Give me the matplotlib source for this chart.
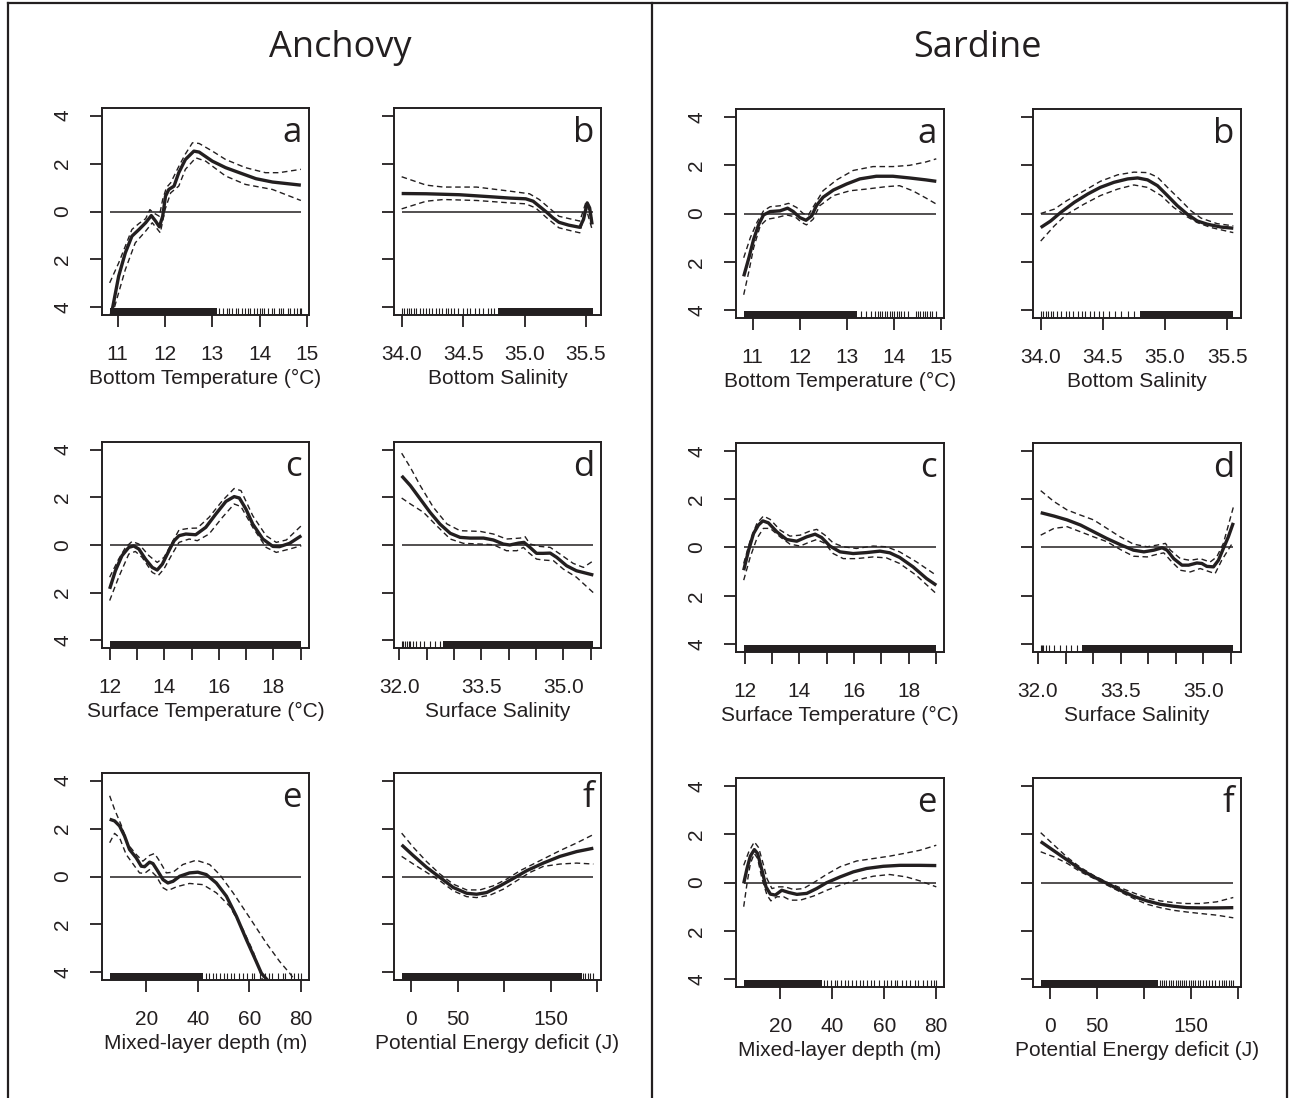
import matplotlib
matplotlib.use("Agg")
import matplotlib.pyplot as plt
from matplotlib.lines import Line2D

plt.rcParams['font.family'] = ['Liberation Sans', 'DejaVu Sans']

INK = '#231f20'

# ---------------- DATA ----------------
species = ["Anchovy", "Sardine"]
panel_letters = ["a", "b", "c", "d", "e", "f"]
x_labels = ["Bottom Temperature (°C)", "Bottom Salinity",
            "Surface Temperature (°C)", "Surface Salinity",
            "Mixed-layer depth (m)", "Potential Energy deficit (J)"]
y_ticks = [-4, -2, 0, 2, 4]
y_ticklabels = ["4", "2", "0", "2", "4"]

bt_ticks = [11, 12, 13, 14, 15]
bt_ticklabels = ["11", "12", "13", "14", "15"]
bs_ticks = [34.0, 34.5, 35.0, 35.5]
bs_ticklabels = ["34.0", "34.5", "35.0", "35.5"]
st_ticks = [12, 13, 14, 15, 16, 17, 18, 19]
st_ticklabels = ["12", "", "14", "", "16", "", "18", ""]
ss_ticks = [32.0, 32.5, 33.0, 33.5, 34.0, 34.5, 35.0, 35.5]
ss_ticklabels = ["32.0", "", "", "33.5", "", "", "35.0", ""]
mld_ticks = [20, 40, 60, 80]
mld_ticklabels = ["20", "40", "60", "80"]
pe_ticks = [0, 50, 100, 150, 200]
pe_ticklabels = ["0", "50", "", "150", ""]

# ---- Anchovy a: bottom temperature
anc_a_fit = [(10.86, -4.35), (11.02, -2.7), (11.16, -1.73), (11.30, -1.03), (11.45, -0.75),
             (11.59, -0.47), (11.71, -0.17), (11.80, -0.4), (11.88, -0.64), (11.95, -0.2),
             (12.01, 0.64), (12.08, 0.92), (12.19, 1.06), (12.29, 1.62), (12.43, 2.17),
             (12.61, 2.52), (12.72, 2.48), (13.0, 2.1), (13.28, 1.83), (13.57, 1.62),
             (13.92, 1.37), (14.27, 1.23), (14.87, 1.1)]
anc_a_up = [(10.83, -2.98), (11.02, -2.15), (11.16, -1.45), (11.3, -0.75), (11.45, -0.5),
            (11.59, -0.3), (11.68, 0.08), (11.75, -0.05), (11.88, -0.2), (11.95, 0.5),
            (12.03, 1.0), (12.12, 1.2), (12.29, 1.88), (12.43, 2.4), (12.58, 2.87),
            (12.72, 2.84), (13.0, 2.52), (13.28, 2.17), (13.7, 1.83), (14.12, 1.62),
            (14.41, 1.62), (14.87, 1.76)]
anc_a_lo = [(10.88, -4.35), (11.16, -2.43), (11.37, -1.31), (11.59, -0.82), (11.73, -0.47),
            (11.9, -0.89), (12.0, 0.08), (12.12, 0.78), (12.29, 1.06), (12.43, 1.76),
            (12.65, 2.24), (12.86, 2.1), (13.28, 1.48), (13.7, 1.13), (14.27, 0.92),
            (14.87, 0.46)]
anc_a_rug_spans = [(10.83, 13.1)]
anc_a_rug_ticks = [13.15, 13.22, 13.3, 13.35, 13.42, 13.5, 13.55, 13.62, 13.7, 13.75, 13.8,
                   13.87, 13.95, 14.0, 14.05, 14.1, 14.18, 14.25, 14.3, 14.4, 14.45, 14.5,
                   14.6, 14.65, 14.72, 14.78, 14.85, 14.88]

# ---- Anchovy b: bottom salinity
anc_b_fit = [(34.0, 0.75), (34.2, 0.74), (34.47, 0.70), (34.74, 0.61), (34.88, 0.56),
             (35.01, 0.53), (35.07, 0.43), (35.12, 0.22), (35.18, -0.03), (35.23, -0.26),
             (35.28, -0.45), (35.36, -0.57), (35.45, -0.66), (35.48, -0.33), (35.51, 0.36),
             (35.53, 0.15), (35.55, -0.54)]
anc_b_up = [(34.0, 1.45), (34.2, 1.10), (34.34, 1.02), (34.61, 1.02), (34.88, 0.85),
            (35.04, 0.74), (35.12, 0.5), (35.2, 0.15), (35.28, -0.2), (35.45, -0.4),
            (35.5, 0.39), (35.55, -0.33)]
anc_b_lo = [(34.0, 0.11), (34.2, 0.43), (34.34, 0.5), (34.61, 0.46), (34.88, 0.36),
            (35.01, 0.32), (35.09, 0.15), (35.18, -0.26), (35.28, -0.68), (35.39, -0.82),
            (35.45, -0.89), (35.5, 0.15), (35.55, -0.75)]
anc_b_rug_spans = [(34.78, 35.56)]
anc_b_rug_ticks = [34.0, 34.02, 34.04, 34.06, 34.08, 34.1, 34.12, 34.15, 34.17, 34.2, 34.22,
                   34.25, 34.28, 34.3, 34.33, 34.36, 34.38, 34.4, 34.43, 34.46, 34.5, 34.53,
                   34.56, 34.6, 34.63, 34.66, 34.7, 34.73, 34.75]

# ---- Anchovy c: surface temperature
anc_c_fit = [(12.0, -1.84), (12.21, -1.08), (12.45, -0.45), (12.7, -0.1), (12.88, -0.04),
             (13.07, -0.17), (13.31, -0.59), (13.56, -0.94), (13.74, -1.05), (13.93, -0.8),
             (14.17, -0.24), (14.36, 0.18), (14.54, 0.39), (14.79, 0.46), (15.15, 0.43),
             (15.52, 0.74), (15.89, 1.3), (16.26, 1.83), (16.56, 2.03), (16.75, 1.97),
             (16.99, 1.51), (17.24, 0.88), (17.61, 0.25), (17.98, -0.06), (18.22, -0.07),
             (18.59, 0.07), (19.02, 0.39)]
anc_c_up = [(12.0, -1.35), (12.33, -0.59), (12.58, -0.1), (12.82, 0.15), (13.07, 0.04),
            (13.44, -0.45), (13.74, -0.73), (13.99, -0.52), (14.29, 0.11), (14.54, 0.63),
            (14.91, 0.7), (15.21, 0.71), (15.64, 1.16), (16.13, 1.86), (16.56, 2.37),
            (16.81, 2.28), (17.24, 1.23), (17.73, 0.39), (18.1, 0.11), (18.47, 0.21),
            (19.02, 0.81)]
anc_c_lo = [(12.0, -2.33), (12.33, -1.35), (12.7, -0.38), (12.94, -0.27), (13.19, -0.52),
            (13.56, -1.15), (13.78, -1.28), (13.99, -1.0), (14.29, -0.38), (14.54, 0.11),
            (14.91, 0.25), (15.21, 0.18), (15.64, 0.46), (16.13, 1.16), (16.56, 1.72),
            (16.81, 1.61), (17.24, 0.74), (17.73, -0.1), (18.1, -0.31), (18.59, -0.17),
            (19.02, -0.03)]
anc_c_rug_spans = [(12.0, 19.02)]
anc_c_rug_ticks = []

# ---- Anchovy d: surface salinity
anc_d_fit = [(32.04, 2.9), (32.2, 2.49), (32.38, 1.93), (32.56, 1.37), (32.74, 0.88),
             (32.93, 0.49), (33.11, 0.32), (33.29, 0.29), (33.54, 0.29), (33.72, 0.21),
             (33.9, 0.04), (34.02, 0.0), (34.18, 0.08), (34.28, 0.11), (34.39, -0.1),
             (34.51, -0.35), (34.63, -0.35), (34.76, -0.34), (34.88, -0.52), (35.06, -0.87),
             (35.24, -1.08), (35.55, -1.26)]
anc_d_up = [(32.04, 3.85), (32.2, 3.25), (32.38, 2.49), (32.62, 1.58), (32.87, 0.88),
            (33.11, 0.6), (33.48, 0.57), (33.72, 0.46), (33.96, 0.25), (34.21, 0.29),
            (34.3, 0.35), (34.39, 0.04), (34.57, -0.06), (34.76, -0.1), (34.94, -0.38),
            (35.18, -0.77), (35.37, -0.94), (35.55, -0.66)]
anc_d_lo = [(32.04, 1.97), (32.2, 1.72), (32.44, 1.37), (32.68, 0.81), (32.93, 0.25),
            (33.17, 0.07), (33.48, 0.04), (33.72, 0.01), (33.96, -0.24), (34.15, -0.24),
            (34.27, -0.1), (34.36, -0.31), (34.51, -0.59), (34.63, -0.63), (34.82, -0.66),
            (35.0, -1.01), (35.24, -1.35), (35.55, -2.0)]
anc_d_rug_spans = [(32.8, 35.55)]
anc_d_rug_ticks = [32.04, 32.07, 32.1, 32.13, 32.17, 32.2, 32.25, 32.3, 32.38, 32.45,
                   32.55, 32.65, 32.75]

# ---- Anchovy e: mixed-layer depth
anc_e_fit = [(5.8, 2.39), (7.7, 2.32), (9.64, 2.11), (11.58, 1.69), (13.5, 1.13), (16.1, 0.78),
             (18.06, 0.43), (19.35, 0.41), (21.3, 0.6), (22.6, 0.54), (24.5, 0.22),
             (26.5, -0.13), (28.4, -0.27), (30.4, -0.2), (33.0, 0.01), (36.8, 0.15),
             (40.0, 0.18), (43.3, 0.08), (47.2, -0.27), (51.1, -0.82), (55.0, -1.66),
             (58.9, -2.64), (62.7, -3.55), (64.7, -4.04), (68.5, -4.5)]
anc_e_up = [(5.8, 3.37), (7.7, 2.8), (10.3, 2.14), (12.9, 1.34), (16.1, 0.92), (18.7, 0.64),
            (21.3, 0.88), (23.2, 0.96), (25.2, 0.64), (27.8, 0.15), (30.4, 0.18), (34.2, 0.5),
            (39.4, 0.68), (44.6, 0.5), (48.5, 0.08), (53.7, -0.68), (60.2, -1.73),
            (66.6, -2.78), (71.8, -3.55), (75.7, -4.04), (78.9, -4.5)]
anc_e_lo = [(5.8, 1.41), (7.7, 1.8), (9.64, 1.62), (12.2, 0.92), (15.5, 0.43), (17.4, 0.15),
            (19.35, 0.13), (21.3, 0.29), (23.9, 0.01), (26.5, -0.47), (28.4, -0.59),
            (31.7, -0.43), (36.8, -0.29), (42.0, -0.34), (47.2, -0.68), (52.4, -1.24),
            (57.6, -2.22), (61.5, -3.13), (64.0, -3.9), (65.6, -4.5)]
anc_e_rug_spans = [(5.8, 42.0)]
anc_e_rug_ticks = [43, 44.5, 46, 47, 48.5, 50, 51.5, 53, 54, 56, 57.5, 59, 61, 62, 64, 66,
                   67.5, 69, 71, 73, 74, 76, 77.5, 79, 80.2]

# ---- Anchovy f: potential energy deficit
anc_f_fit = [(-10, 1.32), (2.5, 0.87), (16.8, 0.38), (31.1, -0.04), (45.4, -0.46),
             (59.7, -0.7), (70.4, -0.74), (81.2, -0.67), (95.5, -0.39), (109.8, -0.08),
             (124.0, 0.24), (141.9, 0.56), (159.8, 0.84), (177.7, 1.04), (195.6, 1.18)]
anc_f_up = [(-10, 1.81), (2.5, 1.22), (16.8, 0.62), (31.1, 0.1), (45.4, -0.32), (59.7, -0.56),
            (74.0, -0.56), (88.3, -0.39), (102.6, -0.11), (116.9, 0.24), (131.2, 0.52),
            (145.5, 0.8), (159.8, 1.08), (177.7, 1.4), (195.6, 1.75)]
anc_f_lo = [(-10, 0.84), (2.5, 0.52), (16.8, 0.17), (31.1, -0.18), (45.4, -0.6), (59.7, -0.84),
            (70.4, -0.88), (84.7, -0.78), (99.0, -0.53), (113.3, -0.18), (127.6, 0.17),
            (141.9, 0.42), (159.8, 0.52), (177.7, 0.56), (195.6, 0.52)]
anc_f_rug_spans = [(-10, 183)]
anc_f_rug_ticks = [185, 187, 190, 192, 195.6]

# ---- Sardine a: bottom temperature
sar_a_fit = [(10.81, -2.6), (10.92, -1.83), (11.02, -1.07), (11.13, -0.44), (11.23, -0.06),
             (11.37, 0.08), (11.58, 0.11), (11.74, 0.22), (11.86, 0.08), (12.0, -0.17),
             (12.13, -0.28), (12.25, -0.1), (12.35, 0.32), (12.49, 0.67), (12.71, 0.97),
             (12.99, 1.22), (13.27, 1.43), (13.62, 1.54), (13.97, 1.54), (14.32, 1.47),
             (14.67, 1.39), (14.89, 1.33)]
sar_a_up = [(10.81, -1.83), (10.95, -1.0), (11.09, -0.37), (11.23, 0.11), (11.37, 0.28),
            (11.58, 0.32), (11.76, 0.42), (11.93, 0.25), (12.07, 0.0), (12.18, -0.06),
            (12.32, 0.39), (12.49, 0.94), (12.78, 1.39), (13.13, 1.78), (13.55, 1.94),
            (13.97, 1.94), (14.32, 1.99), (14.67, 2.13), (14.89, 2.26)]
sar_a_lo = [(10.81, -3.36), (10.92, -2.39), (11.02, -1.42), (11.16, -0.51), (11.3, -0.24),
            (11.51, -0.17), (11.72, -0.06), (11.9, -0.14), (12.04, -0.375), (12.14, -0.47),
            (12.28, -0.24), (12.42, 0.32), (12.71, 0.74), (13.06, 0.94), (13.41, 1.01),
            (13.83, 1.11), (14.11, 1.15), (14.39, 0.94), (14.67, 0.64), (14.89, 0.39)]
sar_a_rug_spans = [(10.81, 13.2)]
sar_a_rug_ticks = [13.3, 13.4, 13.5, 13.6, 13.65, 13.7, 13.75, 13.8, 13.85, 13.9, 13.95,
                   14.0, 14.05, 14.1, 14.15, 14.2, 14.3, 14.45, 14.5, 14.55, 14.6, 14.65,
                   14.7, 14.75, 14.8, 14.89]

# ---- Sardine b: bottom salinity
sar_b_fit = [(34.0, -0.58), (34.08, -0.31), (34.16, 0.04), (34.27, 0.46), (34.38, 0.81),
             (34.48, 1.08), (34.59, 1.29), (34.7, 1.43), (34.78, 1.47), (34.86, 1.39),
             (34.94, 1.15), (35.02, 0.74), (35.1, 0.32), (35.18, -0.03), (35.26, -0.31),
             (35.34, -0.44), (35.45, -0.56), (35.55, -0.61)]
sar_b_up = [(34.0, 0.0), (34.11, 0.18), (34.21, 0.53), (34.35, 0.94), (34.48, 1.33),
            (34.62, 1.6), (34.75, 1.71), (34.86, 1.69), (34.94, 1.5), (35.02, 1.08),
            (35.13, 0.53), (35.21, 0.11), (35.29, -0.19), (35.42, -0.42), (35.55, -0.51)]
sar_b_lo = [(34.0, -1.14), (34.11, -0.51), (34.21, -0.03), (34.35, 0.39), (34.48, 0.74),
            (34.62, 1.01), (34.75, 1.18), (34.86, 1.08), (34.97, 0.74), (35.07, 0.25),
            (35.18, -0.14), (35.26, -0.375), (35.37, -0.58), (35.55, -0.79)]
sar_b_rug_spans = [(34.8, 35.55)]
sar_b_rug_ticks = [34.0, 34.02, 34.04, 34.06, 34.08, 34.1, 34.13, 34.16, 34.2, 34.23,
                   34.26, 34.3, 34.33, 34.36, 34.4, 34.43, 34.47, 34.5, 34.55, 34.6,
                   34.65, 34.7, 34.75]

# ---- Sardine c: surface temperature
sar_c_fit = [(11.97, -0.94), (12.15, -0.11), (12.33, 0.58), (12.51, 0.93), (12.67, 1.1),
             (12.87, 1.02), (13.18, 0.65), (13.54, 0.33), (13.91, 0.26), (14.27, 0.44),
             (14.58, 0.55), (14.82, 0.41), (15.12, 0.06), (15.49, -0.18), (15.97, -0.25),
             (16.46, -0.21), (16.95, -0.15), (17.31, -0.22), (17.67, -0.41), (18.16, -0.8),
             (18.65, -1.28), (19.01, -1.56)]
sar_c_up = [(11.97, -0.66), (12.21, 0.3), (12.45, 0.99), (12.69, 1.3), (12.94, 1.16),
            (13.3, 0.72), (13.66, 0.47), (14.03, 0.51), (14.39, 0.68), (14.64, 0.75),
            (14.94, 0.51), (15.24, 0.19), (15.61, 0.03), (16.09, -0.04), (16.7, 0.06),
            (17.19, 0.03), (17.67, -0.18), (18.28, -0.59), (19.01, -1.15)]
sar_c_lo = [(11.97, -1.35), (12.21, -0.39), (12.45, 0.37), (12.69, 0.79), (12.94, 0.79),
            (13.3, 0.44), (13.66, 0.14), (14.03, 0.06), (14.39, 0.23), (14.64, 0.33),
            (14.94, 0.17), (15.24, -0.25), (15.61, -0.46), (16.09, -0.46), (16.7, -0.39),
            (17.19, -0.43), (17.67, -0.66), (18.28, -1.15), (19.01, -1.91)]
sar_c_rug_spans = [(11.97, 19.01)]
sar_c_rug_ticks = []

# ---- Sardine d: surface salinity
sar_d_fit = [(32.05, 1.44), (32.29, 1.3), (32.53, 1.14), (32.77, 0.93), (33.01, 0.65),
             (33.25, 0.37), (33.49, 0.12), (33.73, -0.11), (33.92, -0.18), (34.1, -0.11),
             (34.25, -0.01), (34.34, -0.11), (34.46, -0.46), (34.61, -0.73), (34.73, -0.73),
             (34.88, -0.64), (34.97, -0.66), (35.06, -0.78), (35.18, -0.8), (35.27, -0.53),
             (35.36, -0.04), (35.45, 0.44), (35.54, 1.02)]
sar_d_up = [(32.05, 2.35), (32.29, 1.9), (32.53, 1.55), (32.77, 1.34), (33.01, 1.14),
            (33.25, 0.79), (33.49, 0.44), (33.73, 0.14), (33.98, 0.03), (34.16, 0.1),
            (34.31, 0.17), (34.4, -0.11), (34.58, -0.46), (34.76, -0.53), (34.94, -0.46),
            (35.12, -0.6), (35.24, -0.39), (35.36, 0.17), (35.54, 1.66)]
sar_d_lo = [(32.05, 0.51), (32.29, 0.79), (32.53, 0.86), (32.77, 0.65), (33.01, 0.44),
            (33.25, 0.24), (33.49, -0.08), (33.73, -0.36), (33.98, -0.39), (34.16, -0.28),
            (34.28, -0.22), (34.4, -0.53), (34.58, -0.94), (34.76, -1.01), (34.94, -0.87),
            (35.12, -1.01), (35.21, -1.08), (35.33, -0.53), (35.54, 0.24)]
sar_d_rug_spans = [(32.8, 35.54)]
sar_d_rug_ticks = [32.05, 32.08, 32.1, 32.15, 32.2, 32.3, 32.4, 32.5, 32.6, 32.7]

# ---- Sardine e: mixed-layer depth
sar_e_fit = [(5.95, -0.04), (7.23, 0.58), (8.5, 1.09), (10.04, 1.36), (11.3, 1.2), (12.97, 0.51),
             (14.5, -0.18), (16.2, -0.48), (18.1, -0.52), (20.6, -0.32), (23.2, -0.41),
             (26.4, -0.49), (30.2, -0.45), (34.0, -0.25), (37.8, -0.01), (43.0, 0.23),
             (48.1, 0.44), (53.2, 0.58), (59.6, 0.67), (66.0, 0.71), (73.6, 0.71), (80.0, 0.7)]
sar_e_up = [(5.95, 0.71), (7.87, 1.26), (10.04, 1.68), (11.7, 1.44), (13.6, 0.71), (14.9, 0.16),
            (16.8, -0.25), (19.4, -0.18), (21.9, -0.18), (25.1, -0.29), (28.9, -0.25),
            (32.8, -0.01), (37.9, 0.34), (43.0, 0.65), (49.4, 0.89), (55.8, 0.99),
            (62.1, 1.09), (68.5, 1.22), (73.6, 1.33), (80.0, 1.54)]
sar_e_lo = [(5.95, -1.0), (7.23, -0.04), (8.5, 0.78), (10.04, 1.2), (11.3, 0.99), (12.97, 0.16),
            (14.9, -0.52), (16.4, -0.76), (18.7, -0.59), (21.3, -0.59), (23.8, -0.73),
            (27.7, -0.73), (32.8, -0.56), (37.9, -0.32), (43.0, -0.11), (49.4, 0.1),
            (55.8, 0.26), (62.1, 0.33), (68.5, 0.23), (73.6, 0.07), (80.0, -0.18)]
sar_e_rug_spans = [(5.95, 36.0)]
sar_e_rug_ticks = [37, 38, 39.5, 41, 42, 43.5, 45, 46, 47.5, 49, 50.5, 52, 53.5, 55, 56, 58,
                   60, 61, 62.5, 64, 65, 67, 68.5, 70, 72, 73, 75, 76.5, 78, 79, 80]

# ---- Sardine f: potential energy deficit
sar_f_x = [-9.9, 4.2, 18.4, 32.6, 46.7, 60.9, 75.1, 89.2, 103.4, 117.6, 131.7, 145.9,
           160.1, 177.8, 195.5]
sar_f_fit_y = [1.69, 1.31, 0.93, 0.54, 0.23, -0.04, -0.32, -0.57, -0.76, -0.9, -0.98,
               -1.04, -1.05, -1.05, -1.04]
sar_f_up_y = [2.06, 1.55, 1.04, 0.62, 0.29, 0.01, -0.22, -0.43, -0.64, -0.76, -0.83,
              -0.87, -0.87, -0.8, -0.62]
sar_f_lo_y = [1.27, 1.06, 0.79, 0.44, 0.17, -0.11, -0.39, -0.66, -0.9, -1.04, -1.15,
              -1.22, -1.28, -1.35, -1.46]
sar_f_rug_spans = [(-9.9, 115)]
sar_f_rug_ticks = [117, 119.5, 122, 124, 127, 129, 131, 134, 136, 139, 141, 143, 145, 148,
                   150, 152, 155, 158, 160, 163, 166, 170, 173, 176, 180, 183, 186, 188,
                   191, 193, 195.5]

sar_f_fit = list(zip(sar_f_x, sar_f_fit_y))
sar_f_up = list(zip(sar_f_x, sar_f_up_y))
sar_f_lo = list(zip(sar_f_x, sar_f_lo_y))

# ---------------- FIGURE ----------------
W, H = 1295, 1098
fig = plt.figure(figsize=(W / 100, H / 100), dpi=100)

def add_panel(x0, x1, y0, y1):
    return fig.add_axes([x0 / W, 1 - y1 / H, (x1 - x0) / W, (y1 - y0) / H])

def draw_panel(ax, fit, up, lo, spans, ticks_rug, xticks, xticklabels, xlabel,
               letter, show_ylabels):
    xs_all = [p[0] for p in fit + up + lo] + [s for sp in spans for s in sp] + list(ticks_rug)
    xmin, xmax = min(xs_all), max(xs_all)
    rng = xmax - xmin
    ax.set_xlim(xmin - 0.04 * rng, xmax + 0.04 * rng)
    ax.set_ylim(-4.32, 4.32)
    # zero line over the data range
    ax.hlines(0, xmin, xmax, color=INK, lw=1.1, zorder=2)
    # CI and fit
    for curve in (up, lo):
        ax.plot([p[0] for p in curve], [p[1] for p in curve], color=INK, lw=1.0,
                linestyle=(0, (4, 2.6)), zorder=3)
    ax.plot([p[0] for p in fit], [p[1] for p in fit], color=INK, lw=2.4, zorder=4,
            solid_capstyle='butt', solid_joinstyle='round')
    # rug
    trans = ax.get_xaxis_transform()
    for a, b in spans:
        ax.axvspan(a, b, ymin=0, ymax=0.034, color=INK, lw=0, zorder=5)
    if ticks_rug:
        ax.vlines(ticks_rug, 0, 0.034, transform=trans, color=INK, lw=0.8, zorder=5)
    # axes styling
    ax.set_xticks(xticks)
    ax.set_xticklabels(xticklabels)
    ax.set_yticks(y_ticks)
    if show_ylabels:
        ax.set_yticklabels(y_ticklabels, rotation=90, va='center')
    else:
        ax.set_yticklabels([])
    ax.tick_params(direction='out', length=8.5, width=1.3, labelsize=15, pad=13,
                   colors=INK)
    for s in ax.spines.values():
        s.set_linewidth(1.4)
        s.set_color(INK)
    ax.set_xlabel(xlabel, fontsize=15, labelpad=4, color=INK)
    ax.text(0.966, 0.835, letter, transform=ax.transAxes, ha='right', va='baseline',
            fontsize=25, family='Open Sans', color=INK)

anc_panels = [(anc_a_fit, anc_a_up, anc_a_lo, anc_a_rug_spans, anc_a_rug_ticks),
              (anc_b_fit, anc_b_up, anc_b_lo, anc_b_rug_spans, anc_b_rug_ticks),
              (anc_c_fit, anc_c_up, anc_c_lo, anc_c_rug_spans, anc_c_rug_ticks),
              (anc_d_fit, anc_d_up, anc_d_lo, anc_d_rug_spans, anc_d_rug_ticks),
              (anc_e_fit, anc_e_up, anc_e_lo, anc_e_rug_spans, anc_e_rug_ticks),
              (anc_f_fit, anc_f_up, anc_f_lo, anc_f_rug_spans, anc_f_rug_ticks)]
sar_panels = [(sar_a_fit, sar_a_up, sar_a_lo, sar_a_rug_spans, sar_a_rug_ticks),
              (sar_b_fit, sar_b_up, sar_b_lo, sar_b_rug_spans, sar_b_rug_ticks),
              (sar_c_fit, sar_c_up, sar_c_lo, sar_c_rug_spans, sar_c_rug_ticks),
              (sar_d_fit, sar_d_up, sar_d_lo, sar_d_rug_spans, sar_d_rug_ticks),
              (sar_e_fit, sar_e_up, sar_e_lo, sar_e_rug_spans, sar_e_rug_ticks),
              (sar_f_fit, sar_f_up, sar_f_lo, sar_f_rug_spans, sar_f_rug_ticks)]
xtick_sets = [(bt_ticks, bt_ticklabels), (bs_ticks, bs_ticklabels),
              (st_ticks, st_ticklabels), (ss_ticks, ss_ticklabels),
              (mld_ticks, mld_ticklabels), (pe_ticks, pe_ticklabels)]

layout = {
    "Anchovy": dict(cols=[(102, 309), (394, 601)],
                    rows=[(108, 315), (442, 648), (773, 980)], title_x=340),
    "Sardine": dict(cols=[(736, 944), (1033, 1241)],
                    rows=[(109, 318), (443, 652), (778, 987)], title_x=977),
}

for sp, panels in zip(species, [anc_panels, sar_panels]):
    lay = layout[sp]
    for i, (fit, up, lo, spans, rt) in enumerate(panels):
        r, c = divmod(i, 2)
        x0, x1 = lay["cols"][c]
        y0, y1 = lay["rows"][r]
        ax = add_panel(x0, x1, y0, y1)
        xt, xtl = xtick_sets[i]
        draw_panel(ax, fit, up, lo, spans, rt, xt, xtl, x_labels[i], panel_letters[i],
                   show_ylabels=(c == 0))
    fig.text(lay["title_x"] / W, 1 - 48 / H, sp, ha='center', va='center',
             fontsize=26, family='Open Sans', color=INK)

# outer frame and divider
def fline(xs, ys):
    fig.add_artist(Line2D([x / W for x in xs], [1 - y / H for y in ys],
                          transform=fig.transFigure, color=INK, lw=1.6))

fline([8, 1287], [3, 3])
fline([8, 8], [3, 1100])
fline([1287, 1287], [3, 1100])
fline([652, 652], [3, 1100])

fig.savefig("out.png", dpi=100, facecolor='white')
